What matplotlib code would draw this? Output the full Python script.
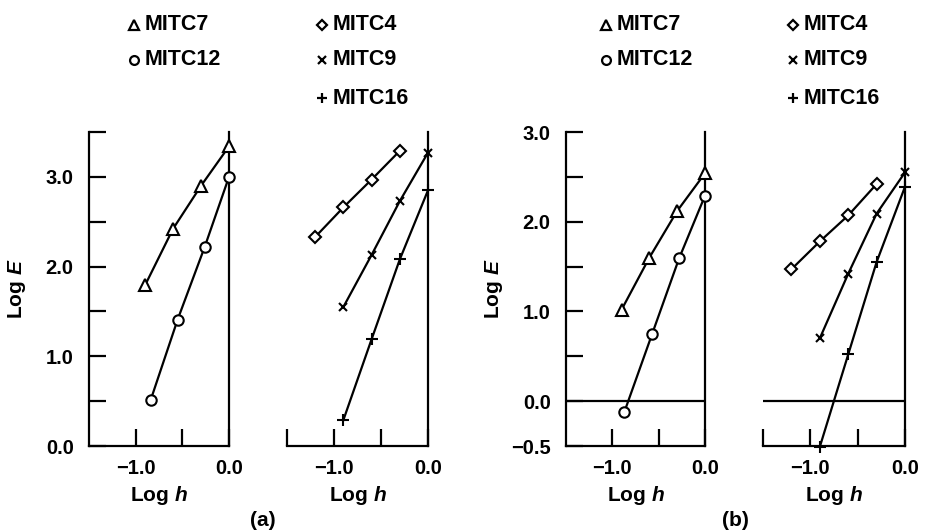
import matplotlib
matplotlib.use("Agg")
import matplotlib.pyplot as plt
from matplotlib.lines import Line2D

plt.rcParams['font.family'] = ['Liberation Sans', 'DejaVu Sans']
plt.rcParams['font.weight'] = 'bold'
plt.rcParams['axes.labelweight'] = 'bold'
plt.rcParams['mathtext.fontset'] = 'custom'
plt.rcParams['mathtext.it'] = 'Liberation Sans:bold:italic'
plt.rcParams['mathtext.rm'] = 'Liberation Sans:bold'

# (a) values, log h vs log E
h7a = [-0.90, -0.60, -0.30, 0.0]
e7a = [1.79, 2.42, 2.90, 3.34]
h12a = [-0.84, -0.55, -0.26, 0.0]
e12a = [0.51, 1.41, 2.22, 3.00]
h4a = [-1.20, -0.90, -0.60, -0.30]
e4a = [2.33, 2.66, 2.97, 3.29]
h9a = [-0.90, -0.60, -0.30, 0.0]
e9a = [1.55, 2.13, 2.73, 3.27]
h16a = [-0.90, -0.60, -0.30, 0.0]
e16a = [0.29, 1.19, 2.08, 2.85]

# (b)
h7b = [-0.90, -0.60, -0.30, 0.0]
e7b = [1.02, 1.60, 2.12, 2.54]
h12b = [-0.87, -0.57, -0.28, 0.0]
e12b = [-0.12, 0.75, 1.59, 2.29]
h4b = [-1.20, -0.90, -0.60, -0.30]
e4b = [1.47, 1.78, 2.07, 2.42]
h9b = [-0.90, -0.60, -0.30, 0.0]
e9b = [0.70, 1.42, 2.09, 2.55]
h16b = [-0.90, -0.60, -0.30, 0.0]
e16b = [-0.51, 0.52, 1.55, 2.39]

names_left = ['MITC7', 'MITC12']
names_right = ['MITC4', 'MITC9', 'MITC16']
marks = {'MITC7': '^', 'MITC12': 'o', 'MITC4': 'D', 'MITC9': 'x', 'MITC16': '+'}
msize = {'MITC7': 8, 'MITC12': 7.5, 'MITC4': 6, 'MITC9': 6, 'MITC16': 9}

lw = 1.6
W, H = 926, 532
fig = plt.figure(figsize=(W / 100, H / 100), dpi=100)


def px_axes(x0, x1, y0, y1):
    return fig.add_axes([x0 / W, 1 - y1 / H, (x1 - x0) / W, (y1 - y0) / H])


def draw(ax, series, ylim, left):
    for name, h, e in series:
        ax.plot(h, e, color='k', lw=lw, marker=marks[name], ms=msize[name],
                mfc='white', mec='k', mew=1.5, clip_on=False, zorder=3)
    ax.set_xlim(-1.5, 0)
    ax.set_ylim(*ylim)
    ax.spines['top'].set_visible(False)
    for s in ['left', 'bottom', 'right']:
        ax.spines[s].set_linewidth(lw)
    ax.tick_params(direction='in', length=12, width=lw, labelsize=14.5)
    ax.tick_params(axis='x', pad=9)
    ax.tick_params(axis='y', pad=11)
    if left:
        ax.set_xticks([-1.0, -0.5, 0.0], ['\u22121.0', '', '0.0'])
    else:
        ax.spines['left'].set_visible(False)
        ax.set_xticks([-1.5, -1.0, -0.5, 0.0], ['', '\u22121.0', '', '0.0'])
        ax.set_yticks([])
    ax.set_xlabel('Log $h$', fontsize=15, labelpad=5)


# (a)
ax1 = px_axes(89, 229, 132, 446)
draw(ax1, [('MITC7', h7a, e7a), ('MITC12', h12a, e12a)], (0, 3.5), True)
ax1.set_yticks([0, 0.5, 1.0, 1.5, 2.0, 2.5, 3.0, 3.5],
               ['0.0', '', '1.0', '', '2.0', '', '3.0', ''])
ax1.set_ylabel('Log $E$', fontsize=15)
ax1.yaxis.set_label_coords(-0.435, 0.5)

ax2 = px_axes(287, 428, 132, 446)
draw(ax2, [('MITC4', h4a, e4a), ('MITC9', h9a, e9a), ('MITC16', h16a, e16a)],
     (0, 3.5), False)

# (b)
ax3 = px_axes(566, 705, 132, 446)
draw(ax3, [('MITC7', h7b, e7b), ('MITC12', h12b, e12b)], (-0.5, 3.0), True)
ax3.set_yticks([-0.5, 0, 0.5, 1.0, 1.5, 2.0, 2.5, 3.0],
               ['\u22120.5', '0.0', '', '1.0', '', '2.0', '', '3.0'])
ax3.set_ylabel('Log $E$', fontsize=15)
ax3.yaxis.set_label_coords(-0.44, 0.5)

ax4 = px_axes(763, 905, 132, 446)
draw(ax4, [('MITC4', h4b, e4b), ('MITC9', h9b, e9b), ('MITC16', h16b, e16b)],
     (-0.5, 3.0), False)

for ax in (ax3, ax4):
    ax.axhline(0, color='k', lw=lw, zorder=2)

# key text above each panel
rows_y = [25, 60, 98]
for mx, names in [(134, names_left), (322, names_right),
                  (606, names_left), (793, names_right)]:
    for name, ry in zip(names, rows_y):
        fig.add_artist(Line2D([mx / W], [1 - ry / H], marker=marks[name],
                              ms=msize[name] * 0.85, mfc='white', mec='k', mew=1.6,
                              ls='none', transform=fig.transFigure))
        fig.text((mx + 11) / W, 1 - ry / H, name, fontsize=15.5,
                 ha='left', va='center')

fig.text(263 / W, 1 - 521 / H, '(a)', fontsize=15, ha='center', va='center')
fig.text(735 / W, 1 - 521 / H, '(b)', fontsize=15, ha='center', va='center')

fig.savefig('out.png', dpi=100)
